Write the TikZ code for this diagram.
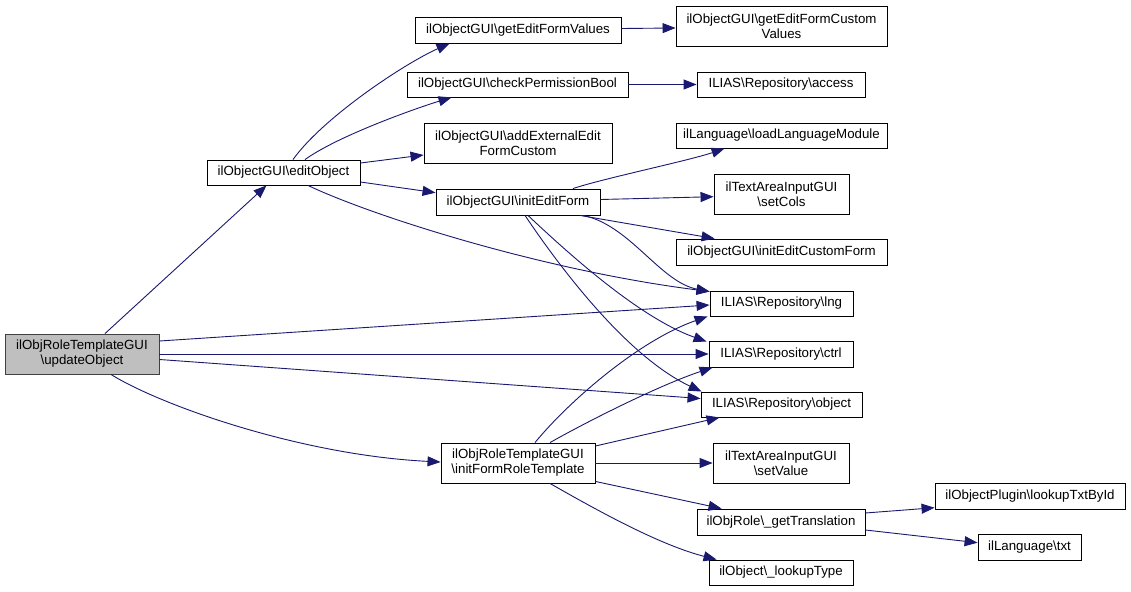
\documentclass[tikz,border=0pt]{standalone}
\usepackage{fontspec}
\setmainfont{Liberation Sans}
\usetikzlibrary{arrows.meta,calc}
\newcommand\bsl{\textbackslash}
\definecolor{edgecol}{HTML}{191970}
\definecolor{grayfill}{HTML}{BFBFBF}
\tikzset{
  box/.style={draw=black, line width=0.9pt, fill=white, inner sep=0pt, align=center,
    font=\fontsize{13.3}{15}\selectfont},
  focus/.style={box, draw=black!75, fill=grayfill},
  edge/.style={draw=edgecol, line width=0.9pt, -{Triangle[length=13pt,width=10pt]}},
}
\begin{document}
\begin{tikzpicture}[x=1pt,y=-1pt]
\useasboundingbox[fill=white] (0,0) rectangle (1131,591);
% nodes
\node[focus, minimum width=154pt, minimum height=40pt] (upd) at (82,354) {ilObjRoleTemplateGUI\\\bsl updateObject};
\node[box, minimum width=153pt, minimum height=25pt] (edit) at (283.5,172.5) {ilObjectGUI\bsl editObject};
\node[box, minimum width=206pt, minimum height=26pt] (gefv) at (518,30) {ilObjectGUI\bsl getEditFormValues};
\node[box, minimum width=211pt, minimum height=40pt] (gefcv) at (781.5,26) {ilObjectGUI\bsl getEditFormCustom\\Values};
\node[box, minimum width=221pt, minimum height=25pt] (cpb) at (517.5,84.5) {ilObjectGUI\bsl checkPermissionBool};
\node[box, minimum width=168pt, minimum height=25pt] (access) at (781,84.5) {ILIAS\bsl Repository\bsl access};
\node[box, minimum width=188pt, minimum height=40pt] (aeefc) at (518,143) {ilObjectGUI\bsl addExternalEdit\\FormCustom};
\node[box, minimum width=211pt, minimum height=25pt] (llm) at (781.5,135.5) {ilLanguage\bsl loadLanguageModule};
\node[box, minimum width=135pt, minimum height=40pt] (setcols) at (781.5,194) {ilTextAreaInputGUI\\\bsl setCols};
\node[box, minimum width=164pt, minimum height=26pt] (ief) at (518,202) {ilObjectGUI\bsl initEditForm};
\node[box, minimum width=211pt, minimum height=26pt] (iecf) at (781.5,252) {ilObjectGUI\bsl initEditCustomForm};
\node[box, minimum width=143pt, minimum height=25pt] (lng) at (781.5,303.5) {ILIAS\bsl Repository\bsl lng};
\node[box, minimum width=144pt, minimum height=26pt] (ctrl) at (781,354) {ILIAS\bsl Repository\bsl ctrl};
\node[box, minimum width=161pt, minimum height=25pt] (obj) at (781.5,404.5) {ILIAS\bsl Repository\bsl object};
\node[box, minimum width=154pt, minimum height=40pt] (ifrt) at (518,463) {ilObjRoleTemplateGUI\\\bsl initFormRoleTemplate};
\node[box, minimum width=136pt, minimum height=40pt] (setval) at (781,463) {ilTextAreaInputGUI\\\bsl setValue};
\node[box, minimum width=168pt, minimum height=26pt] (gt) at (781,522) {ilObjRole\bsl \_getTranslation};
\node[box, minimum width=144pt, minimum height=25pt] (lt) at (781,572.5) {ilObject\bsl \_lookupType};
\node[box, minimum width=190pt, minimum height=26pt] (ltbi) at (1030,496) {ilObjectPlugin\bsl lookupTxtById};
\node[box, minimum width=103pt, minimum height=26pt] (txt) at (1029.5,547) {ilLanguage\bsl txt};
% edges
\draw[edge] ($(upd.north)+(23,0)$) -- ($(edit.south)+(-17,0)$);
\draw[edge] ($(edit.north)+(9.5,0)$) .. controls +(30,-42) and +(-45,20) .. ($(gefv.south west)+(35,0)$);
\draw[edge] ($(edit.north)+(21.5,0)$) .. controls +(35,-25) and +(-30,9) .. ($(cpb.south west)+(45,0)$);
\draw[edge] ($(edit.east)+(0,-9.5)$) -- ($(aeefc.west)+(0,12)$);
\draw[edge] ($(edit.east)+(0,9.5)$) -- ($(ief.west)+(0,-9.3)$);
\draw[edge] ($(edit.south)+(24.5,0)$) .. controls (370,215) and (540,270) .. ($(lng.west)+(0,-12)$);
\draw[edge] ($(gefv.east)+(0,-1.5)$) -- ($(gefcv.west)+(0,2)$);
\draw[edge] (cpb.east) -- (access.west);
\draw[edge] ($(ief.north)+(55,0)$) .. controls +(30,-10) and +(-35,12) .. ($(llm.south west)+(49,0)$);
\draw[edge] ($(ief.east)+(0,-2.5)$) -- ($(setcols.west)+(0,2.7)$);
\draw[edge] ($(ief.south)+(62,0)$) -- ($(iecf.north west)+(39,0)$);
\draw[edge] ($(ief.south)+(65,0)$) .. controls (630,225) and (660,282) .. ($(lng.north west)+(0,1)$);
\draw[edge] ($(ief.south)+(10,0)$) .. controls (570,255) and (640,318) .. ($(ctrl.north west)+(-2,1)$);
\draw[edge] ($(ief.south)+(7,0)$) .. controls (565,275) and (630,358) .. ($(obj.north west)+(1,0)$);
\draw[edge] ($(upd.east)+(0,-13)$) -- ($(lng.west)+(0,1.5)$);
\draw[edge] (upd.east) -- (ctrl.west);
\draw[edge] ($(upd.east)+(0,5.5)$) -- ($(obj.west)+(0,-6)$);
\draw[edge] ($(upd.south)+(29,0)$) .. controls (160,405) and (300,455) .. ($(ifrt.west)+(0,-1)$);
\draw[edge] ($(ifrt.north)+(17,0)$) .. controls (570,400) and (640,340) .. ($(lng.south west)+(-2,0)$);
\draw[edge] ($(ifrt.north)+(32,0)$) .. controls (590,420) and (660,385) .. ($(ctrl.south west)+(4,0)$);
\draw[edge] ($(ifrt.east)+(0,-17)$) -- ($(obj.south west)+(19,0)$);
\draw[edge] (ifrt.east) -- (setval.west);
\draw[edge] ($(ifrt.south east)+(0,-2)$) -- ($(gt.north west)+(25,0)$);
\draw[edge] ($(ifrt.south)+(32,0)$) .. controls (600,512) and (660,545) .. ($(lt.north west)+(8,0)$);
\draw[edge] ($(gt.east)+(0,-9)$) -- ($(ltbi.west)+(0,11.7)$);
\draw[edge] ($(gt.east)+(0,8)$) -- ($(txt.west)+(0,-4.3)$);
\end{tikzpicture}
\end{document}
